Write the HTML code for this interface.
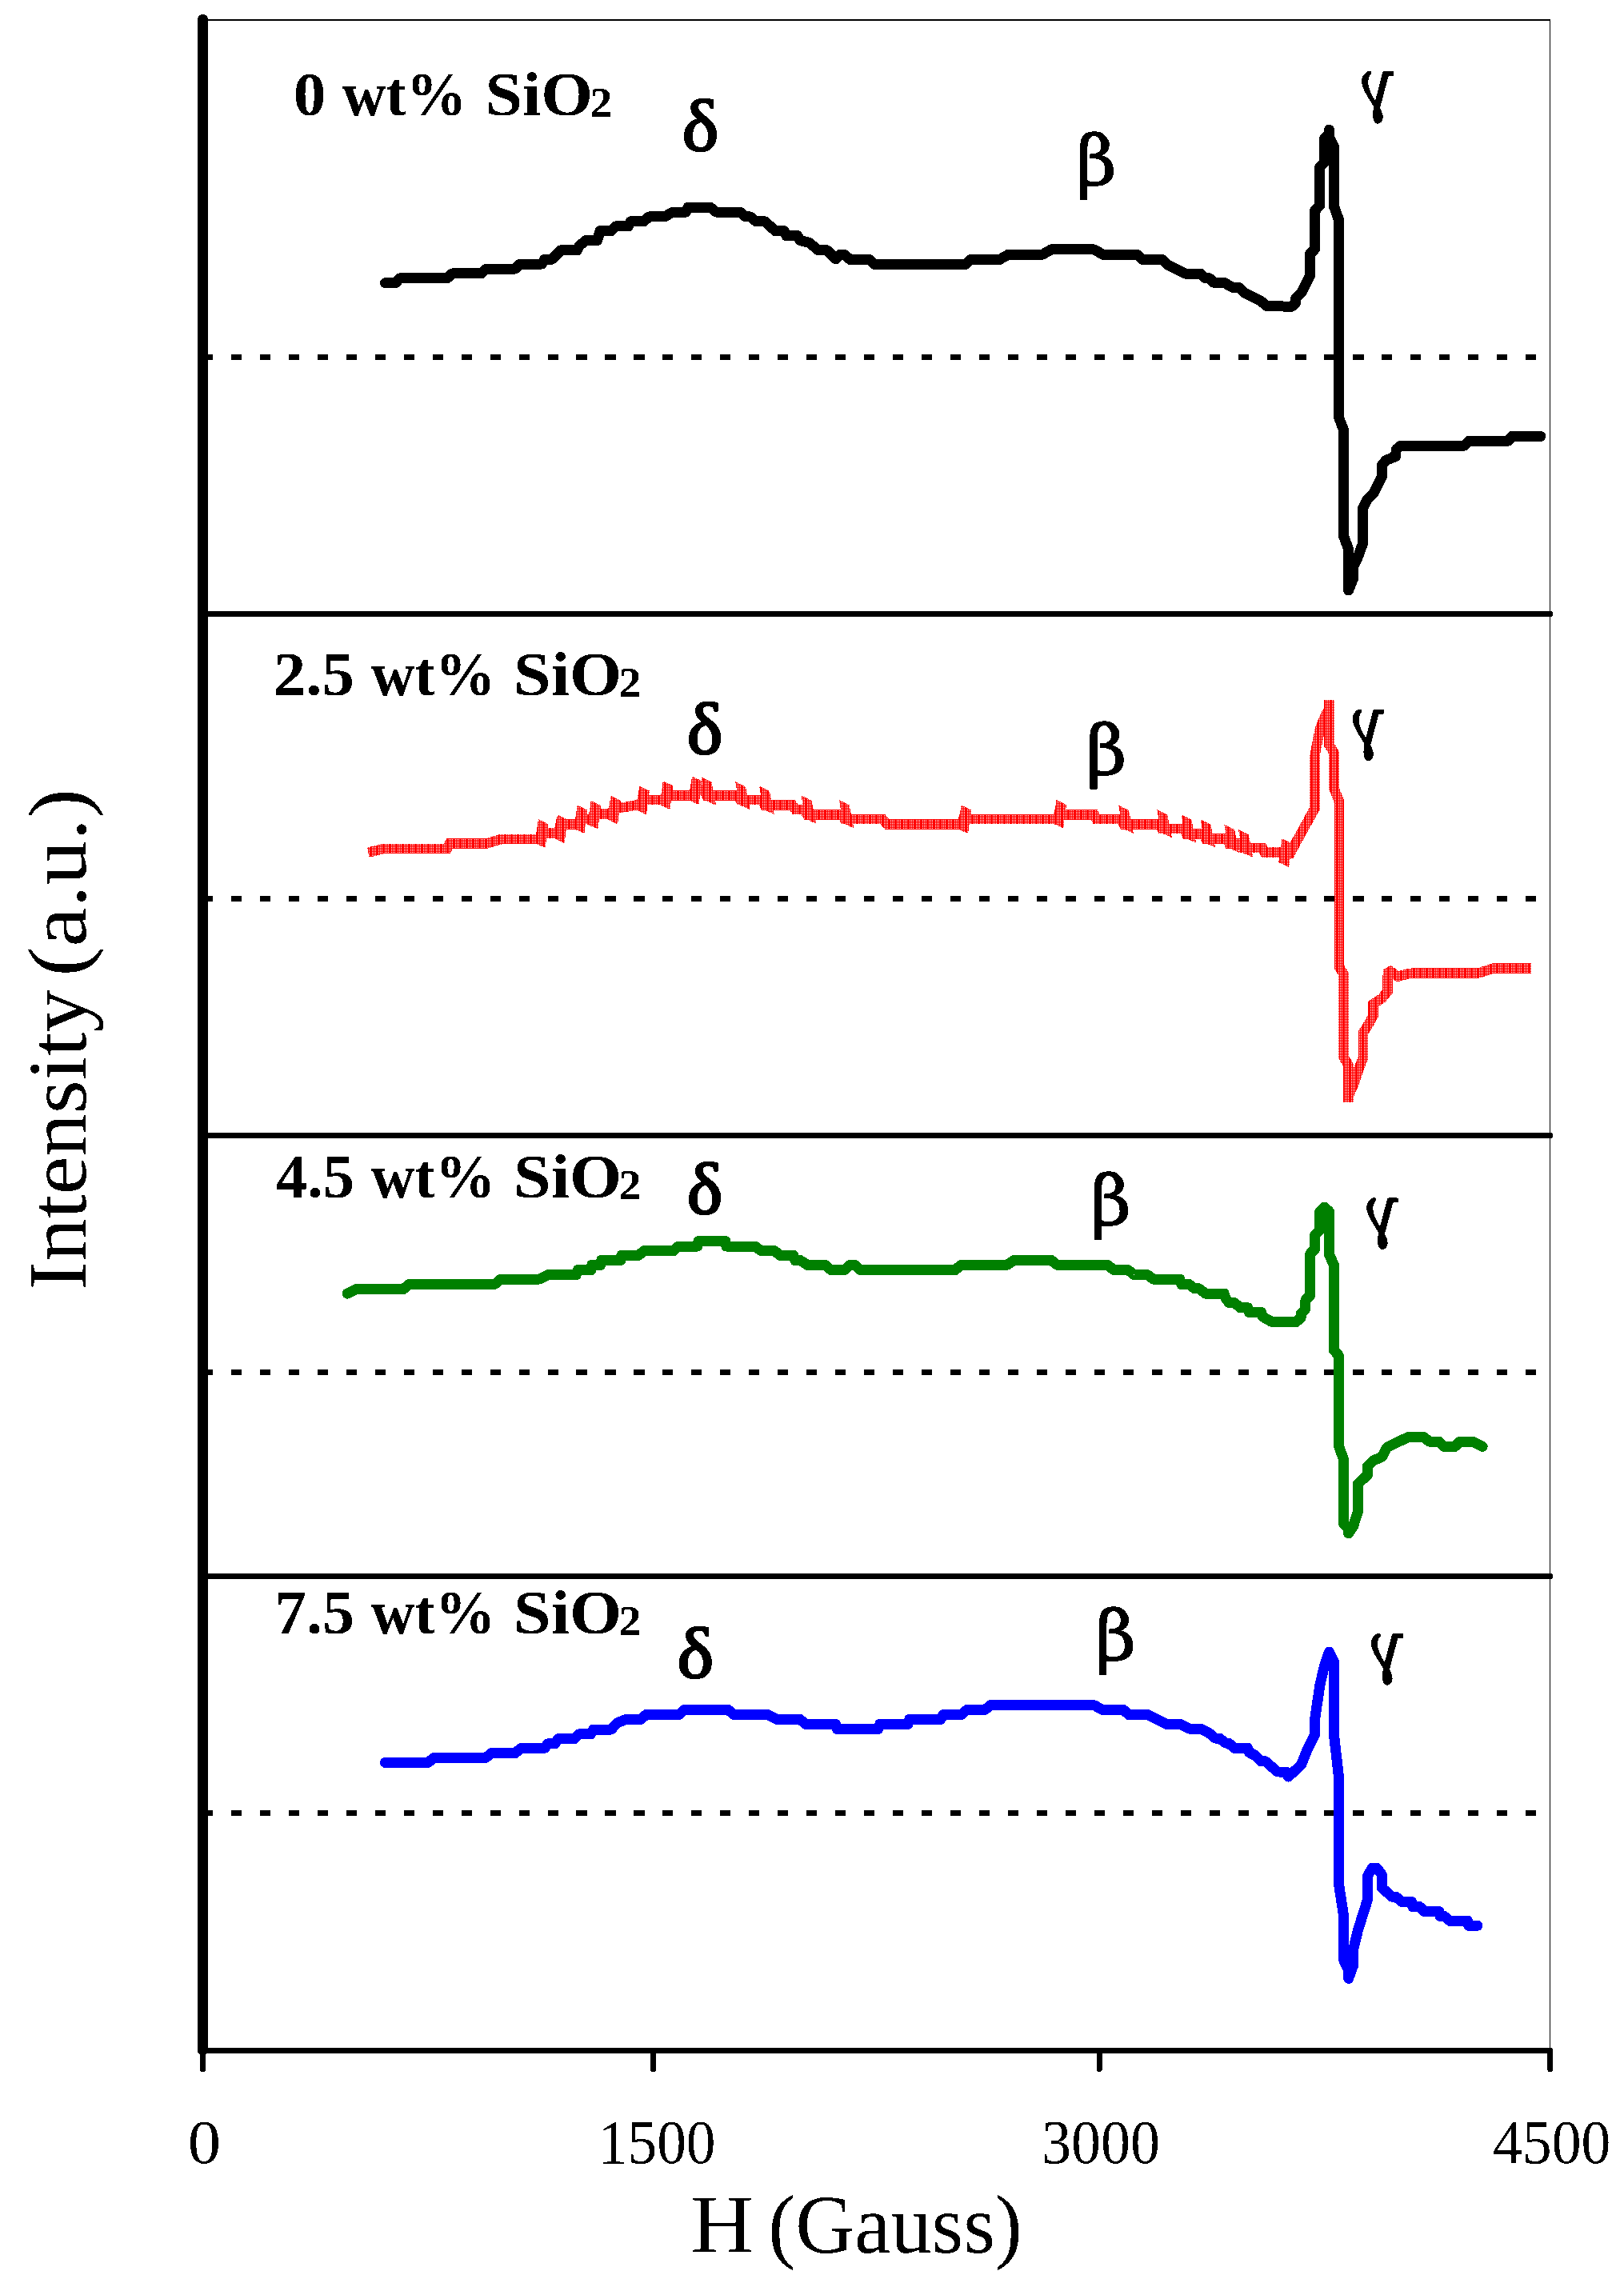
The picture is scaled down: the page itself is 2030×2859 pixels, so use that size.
<!DOCTYPE html>
<html lang="en"><head><meta charset="utf-8"><title>EPR spectra</title>
<style>
html,body{margin:0;padding:0;background:#fff;}
svg{display:block;}
text{font-family:"Liberation Serif",serif;fill:#000;}
.dj{font-family:"DejaVu Serif","Liberation Serif",serif;}
</style></head><body>
<svg width="2030" height="2859" viewBox="0 0 2030 2859" shape-rendering="crispEdges">
<defs>
<pattern id="rp" x="0" y="0" width="8" height="2" patternUnits="userSpaceOnUse">
<rect x="0" y="0" width="8" height="2" fill="#ff0000"/>
<rect x="1" y="1" width="1" height="1" fill="#fff"/>
<rect x="3" y="1" width="1" height="1" fill="#fff"/>
<rect x="5" y="1" width="1" height="1" fill="#fff"/>
</pattern>
<filter id="bin" filterUnits="userSpaceOnUse" x="0" y="0" width="2030" height="2859" color-interpolation-filters="sRGB">
<feComponentTransfer><feFuncA type="discrete" tableValues="0 1"/></feComponentTransfer>
</filter>
</defs>
<rect x="0" y="0" width="2030" height="2859" fill="#fff"/>

<g stroke="#000" fill="none">
<line x1="253.4" y1="25" x2="1938" y2="25" stroke-width="2"/>
<line x1="1937.5" y1="24" x2="1937.5" y2="2563" stroke-width="1"/>
<line x1="253" y1="446.45" x2="1925" y2="446.45" stroke-width="6.9" stroke-dasharray="13.1 22.86"/>
<line x1="253" y1="1123.45" x2="1925" y2="1123.45" stroke-width="6.9" stroke-dasharray="13.1 22.86"/>
<line x1="253" y1="1715.45" x2="1925" y2="1715.45" stroke-width="6.9" stroke-dasharray="13.1 22.86"/>
<line x1="253" y1="2266.45" x2="1925" y2="2266.45" stroke-width="6.9" stroke-dasharray="13.1 22.86"/>
</g>
<polyline points="481.4,353.7 494.3,353.7 499.9,347.8 559.0,347.8 565.3,341.9 601.5,341.9 608.1,336.0 644.0,336.0 650.2,330.0 677.2,330.0 680.9,324.1 690.1,324.1 701.2,312.7 721.6,312.7 724.1,307.1 732.6,300.5 746.7,300.5 750.0,288.7 764.0,288.7 769.6,282.8 785.5,282.8 788.4,276.8 804.7,276.8 811.3,270.9 830.5,270.9 841.6,265.0 857.5,265.0 860.1,259.1 887.8,259.1 895.2,265.0 924.8,265.0 932.1,270.9 937.7,270.9 945.1,276.8 956.2,276.8 969.1,288.7 980.2,288.7 982.8,294.6 996.8,294.6 999.8,300.5 1011.6,303.4 1022.7,312.7 1033.7,312.7 1044.8,323.8 1049.9,318.2 1055.4,318.2 1062.8,324.5 1086.8,324.5 1093.1,330.4 1206.9,330.4 1213.5,324.5 1249.4,324.5 1260.5,318.2 1303.0,318.2 1314.0,311.9 1367.6,311.9 1378.7,318.2 1421.2,318.2 1428.6,324.5 1452.6,324.5 1460.0,331.2 1482.1,342.2 1500.6,342.2 1506.9,347.8 1511.7,347.8 1517.2,353.3 1530.2,353.3 1541.3,359.6 1548.6,359.6 1556.0,366.3 1576.4,376.6 1583.7,382.9 1600.0,382.9 1614.7,383.3 1619.6,378.4 1619.6,372.8 1626.5,366.1 1637.6,343.9 1637.6,317.3 1643.7,311.2 1643.7,263.2 1649.7,257.0 1649.7,209.0 1655.6,202.8 1655.6,173.3 1661.5,167.1 1661.5,162.2 1661.5,172.0 1667.4,183.1 1667.4,257.7 1673.3,274.2 1673.3,460.0 1673.3,521.3 1679.5,537.3 1679.5,670.3 1685.6,686.3 1685.6,738.0 1691.5,723.3 1691.5,708.5 1697.4,696.2 1703.3,680.1 1703.3,635.8 1709.0,624.7 1716.4,617.3 1727.5,595.2 1727.5,581.6 1732.4,575.5 1744.7,570.5 1745.2,561.9 1750.9,557.0 1830.9,557.0 1835.9,551.3 1885.1,551.3 1890.0,545.4 1925.8,545.4" fill="none" stroke="#000" stroke-width="13" stroke-linejoin="round" stroke-linecap="round"/>
<polyline points="460.3,1065.6 480.6,1060.8 559.0,1060.8 561.9,1054.5 608.1,1054.5 626.6,1049.0 674.2,1049.0 676.5,1041.6 698.3,1041.6 700.5,1030.5 723.0,1030.5 725.2,1024.2 740.0,1024.2 742.2,1017.6 764.8,1017.6 767.0,1010.2 774.4,1010.2 794.7,1006.5 800.6,1006.5 802.8,999.9 830.1,999.9 832.4,994.3 866.4,994.3 868.6,988.0 880.0,988.0 883.3,994.3 922.5,994.3 925.5,999.9 952.4,999.9 955.8,1006.5 990.5,1006.5 994.2,1012.0 1005.3,1012.0 1009.0,1018.3 1040.0,1018.3 1038.8,1018.3 1052.1,1018.3 1055.4,1024.2 1103.4,1024.2 1109.0,1030.5 1201.7,1030.5 1203.9,1024.2 1320.7,1024.2 1322.9,1018.3 1367.6,1018.3 1370.6,1024.2 1401.6,1024.2 1404.6,1030.5 1449.6,1030.5 1452.6,1036.1 1479.9,1036.1 1482.9,1042.3 1503.9,1042.3 1506.9,1048.3 1533.5,1048.3 1536.5,1054.5 1551.2,1054.5 1554.2,1060.1 1578.2,1060.1 1580.8,1065.6 1600.0,1065.6 1613.0,1066.4 1619.1,1054.6 1631.4,1032.4 1643.7,1010.2 1643.7,943.7 1649.9,911.7 1655.6,896.9 1661.5,885.9 1661.5,875.3 1661.5,931.4 1667.6,941.3 1667.6,985.6 1673.8,1001.6 1673.8,1180.0 1673.8,1208.4 1679.7,1218.2 1679.7,1321.7 1685.6,1331.5 1685.6,1377.6 1685.6,1369.7 1691.8,1356.2 1697.9,1337.7 1704.1,1321.7 1704.1,1290.9 1710.2,1281.0 1716.4,1270.0 1716.4,1255.2 1727.5,1247.8 1734.4,1239.2 1734.9,1212.1 1747.2,1220.7 1762.0,1217.0 1769.4,1216.3 1848.2,1216.3 1867.9,1210.3 1913.9,1210.3" fill="none" stroke="url(#rp)" stroke-width="12.5" stroke-linejoin="miter" stroke-miterlimit="1.6" stroke-linecap="butt"/>
<polygon points="672.9,1024.2 685.5,1030.4 681.5,1059.9 668.5,1053.7" fill="url(#rp)"/>
<polygon points="696.9,1018.3 709.5,1024.5 705.5,1054.0 692.5,1047.8" fill="url(#rp)"/>
<polygon points="721.7,1006.5 734.3,1012.7 730.3,1042.2 717.3,1036.0" fill="url(#rp)"/>
<polygon points="738.7,1001.0 751.3,1007.2 747.3,1036.7 734.3,1030.5" fill="url(#rp)"/>
<polygon points="763.4,994.7 776.0,1000.9 772.0,1030.4 759.0,1024.2" fill="url(#rp)"/>
<polygon points="799.3,982.5 811.9,988.7 807.9,1018.2 794.9,1012.0" fill="url(#rp)"/>
<polygon points="828.8,976.2 841.4,982.4 837.4,1011.9 824.4,1005.7" fill="url(#rp)"/>
<polygon points="865.0,970.3 877.6,976.5 873.6,1006.0 860.6,999.8" fill="url(#rp)"/>
<polygon points="876.7,971.4 889.5,977.8 895.4,1006.9 881.6,1000.4" fill="url(#rp)"/>
<polygon points="919.2,976.9 932.0,983.3 937.9,1012.4 924.1,1005.9" fill="url(#rp)"/>
<polygon points="949.1,982.5 961.9,988.9 967.8,1018.0 954.0,1011.5" fill="url(#rp)"/>
<polygon points="1001.6,994.3 1014.4,1000.7 1020.3,1029.8 1006.5,1023.3" fill="url(#rp)"/>
<polygon points="1048.8,999.9 1061.6,1006.3 1067.5,1035.4 1053.7,1028.9" fill="url(#rp)"/>
<polygon points="1201.5,1006.5 1214.1,1012.7 1210.1,1042.2 1197.1,1036.0" fill="url(#rp)"/>
<polygon points="1320.5,999.9 1333.1,1006.1 1329.1,1035.6 1316.1,1029.4" fill="url(#rp)"/>
<polygon points="1398.3,1006.5 1411.1,1012.9 1417.0,1042.0 1403.2,1035.5" fill="url(#rp)"/>
<polygon points="1446.3,1012.0 1459.1,1018.4 1465.0,1047.5 1451.2,1041.0" fill="url(#rp)"/>
<polygon points="1476.6,1018.3 1489.4,1024.7 1495.3,1053.8 1481.5,1047.3" fill="url(#rp)"/>
<polygon points="1500.6,1024.2 1513.4,1030.6 1519.3,1059.7 1505.5,1053.2" fill="url(#rp)"/>
<polygon points="1530.2,1030.5 1543.0,1036.9 1548.9,1066.0 1535.1,1059.5" fill="url(#rp)"/>
<polygon points="1547.9,1036.8 1560.7,1043.2 1566.6,1072.3 1552.8,1065.8" fill="url(#rp)"/>
<polygon points="1602.6,1048.4 1615.2,1054.6 1611.2,1084.1 1598.2,1077.9" fill="url(#rp)"/>
<polyline points="434.0,1617.1 445.1,1611.6 504.2,1611.6 511.6,1605.3 618.7,1605.3 626.1,1599.0 674.2,1599.0 685.2,1593.5 720.3,1593.5 722.2,1587.6 738.8,1587.6 739.9,1581.3 750.6,1581.3 751.7,1575.4 775.8,1575.4 776.9,1569.5 797.9,1569.5 805.3,1563.5 842.3,1563.5 847.8,1558.0 871.8,1558.0 872.9,1551.7 906.9,1551.7 908.0,1558.0 943.9,1558.0 951.3,1563.5 967.9,1563.5 975.3,1569.5 991.9,1569.5 993.7,1575.4 1000.0,1575.4 1000.0,1575.4 1009.2,1581.3 1031.4,1581.3 1038.8,1587.6 1055.4,1587.6 1062.8,1581.3 1068.3,1581.3 1075.7,1587.6 1194.0,1587.6 1201.4,1581.3 1258.6,1581.3 1267.9,1575.4 1314.0,1575.4 1321.4,1581.3 1384.2,1581.3 1392.4,1587.6 1410.1,1587.6 1417.5,1593.5 1434.1,1593.5 1441.5,1599.0 1474.8,1599.0 1476.6,1605.3 1485.8,1605.3 1493.2,1610.8 1498.8,1610.8 1506.9,1617.1 1530.2,1617.1 1532.0,1623.0 1536.5,1628.6 1543.1,1628.6 1550.5,1634.9 1559.7,1634.9 1561.6,1640.4 1576.4,1640.4 1578.2,1645.9 1589.3,1652.2 1600.0,1652.2 1620.3,1652.4 1626.0,1647.5 1626.0,1642.6 1631.9,1636.4 1631.9,1625.3 1637.8,1619.2 1637.8,1567.4 1643.7,1561.3 1643.7,1544.0 1649.7,1537.9 1649.7,1514.5 1655.6,1509.1 1661.5,1514.5 1661.5,1568.7 1667.4,1581.0 1667.4,1688.1 1673.3,1694.3 1673.3,1800.0 1673.3,1807.1 1679.5,1824.4 1679.5,1904.4 1685.6,1911.8 1685.6,1916.7 1691.5,1908.1 1697.4,1889.7 1697.4,1855.2 1709.5,1843.6 1709.5,1833.0 1716.4,1826.1 1727.5,1821.2 1733.6,1809.6 1759.5,1796.8 1780.4,1796.8 1786.6,1802.2 1798.9,1802.2 1805.1,1808.4 1818.6,1808.4 1824.8,1802.2 1840.8,1802.2 1853.1,1808.4" fill="none" stroke="#008000" stroke-width="13" stroke-linejoin="round" stroke-linecap="round"/>
<polyline points="481.4,2203.4 535.0,2203.4 542.4,2197.5 607.0,2197.5 614.4,2191.6 644.0,2191.6 651.4,2185.3 680.9,2185.3 684.6,2179.8 693.8,2179.8 697.5,2173.8 717.9,2173.8 723.4,2167.9 738.2,2167.9 741.9,2162.0 764.0,2162.0 771.4,2153.9 782.5,2149.5 801.0,2149.5 807.6,2143.5 849.0,2143.5 855.7,2137.3 910.0,2137.3 917.4,2143.5 959.9,2143.5 971.7,2149.5 1000.1,2149.5 1000.0,2149.5 1007.4,2155.4 1044.3,2155.4 1046.2,2161.3 1097.9,2161.3 1099.8,2155.4 1134.9,2155.4 1136.7,2149.5 1175.5,2149.5 1179.2,2143.5 1201.4,2143.5 1208.7,2137.6 1230.9,2137.6 1238.3,2131.7 1367.6,2131.7 1378.7,2137.6 1404.6,2137.6 1410.8,2143.5 1434.1,2143.5 1458.1,2155.4 1474.8,2155.4 1487.7,2161.3 1500.6,2161.3 1511.7,2166.8 1519.1,2173.1 1524.6,2173.1 1532.0,2179.0 1535.7,2179.0 1543.1,2185.3 1559.7,2185.3 1561.6,2190.8 1569.0,2194.5 1576.4,2201.9 1581.9,2201.9 1596.7,2214.9 1608.0,2215.4 1610.5,2221.0 1626.5,2206.3 1633.9,2187.8 1643.7,2168.1 1643.7,2148.4 1649.9,2106.5 1655.6,2081.9 1661.5,2065.1 1667.4,2076.9 1667.4,2168.1 1673.3,2219.8 1673.3,2347.9 1673.3,2353.9 1679.5,2394.5 1679.5,2450.0 1685.6,2462.3 1685.6,2473.3 1691.5,2457.3 1691.5,2437.6 1697.4,2413.0 1709.5,2374.8 1709.5,2345.3 1715.2,2335.4 1721.3,2335.4 1727.5,2344.0 1727.5,2360.0 1739.8,2371.1 1744.7,2371.1 1752.1,2377.3 1764.4,2377.3 1765.7,2383.4 1774.3,2383.4 1780.4,2389.6 1798.9,2389.6 1800.1,2395.3 1805.1,2395.3 1812.5,2401.4 1834.6,2401.4 1835.9,2407.3 1846.9,2407.3" fill="none" stroke="#0000ff" stroke-width="13" stroke-linejoin="round" stroke-linecap="round"/>
<g stroke="#000" fill="none" stroke-linecap="round">
<line x1="253.4" y1="767.5" x2="1938" y2="767.5" stroke-width="7"/>
<line x1="253.4" y1="1419.5" x2="1938" y2="1419.5" stroke-width="7"/>
<line x1="253.4" y1="1970.3" x2="1938" y2="1970.3" stroke-width="7"/>
<line x1="253.4" y1="2563.4" x2="1937.6" y2="2563.4" stroke-width="7"/>
<line x1="253.5" y1="2563.4" x2="253.5" y2="2586.6" stroke-width="7"/>
<line x1="816.5" y1="2563.4" x2="816.5" y2="2586.6" stroke-width="7"/>
<line x1="1374.2" y1="2563.4" x2="1374.2" y2="2586.6" stroke-width="7"/>
<line x1="1937.6" y1="2563.4" x2="1937.6" y2="2586.6" stroke-width="7"/>
<line x1="253.4" y1="24.5" x2="253.4" y2="2563" stroke-width="13.2"/>
</g>
<g filter="url(#bin)">
<text y="144.10" font-size="78.5" font-weight="bold"><tspan x="366.85" textLength="40.71" lengthAdjust="spacingAndGlyphs">0</tspan> <tspan x="427.81" textLength="155.71" lengthAdjust="spacingAndGlyphs">wt%</tspan> <tspan x="606.62" textLength="134.39" lengthAdjust="spacingAndGlyphs">SiO</tspan><tspan x="737.53" y="145.90" font-size="53.33" textLength="27.83" lengthAdjust="spacingAndGlyphs">2</tspan></text>
<text y="869.10" font-size="78.5" font-weight="bold"><tspan x="341.86" textLength="101.07" lengthAdjust="spacingAndGlyphs">2.5</tspan> <tspan x="463.81" textLength="155.71" lengthAdjust="spacingAndGlyphs">wt%</tspan> <tspan x="642.11" textLength="134.92" lengthAdjust="spacingAndGlyphs">SiO</tspan><tspan x="773.52" y="870.90" font-size="53.33" textLength="27.95" lengthAdjust="spacingAndGlyphs">2</tspan></text>
<text y="1496.80" font-size="78.5" font-weight="bold"><tspan x="344.82" textLength="98.12" lengthAdjust="spacingAndGlyphs">4.5</tspan> <tspan x="463.81" textLength="155.71" lengthAdjust="spacingAndGlyphs">wt%</tspan> <tspan x="642.11" textLength="134.92" lengthAdjust="spacingAndGlyphs">SiO</tspan><tspan x="773.52" y="1498.60" font-size="53.33" textLength="27.95" lengthAdjust="spacingAndGlyphs">2</tspan></text>
<text y="2042.40" font-size="78.5" font-weight="bold"><tspan x="343.10" textLength="100.00" lengthAdjust="spacingAndGlyphs">7.5</tspan> <tspan x="463.81" textLength="155.71" lengthAdjust="spacingAndGlyphs">wt%</tspan> <tspan x="642.11" textLength="134.92" lengthAdjust="spacingAndGlyphs">SiO</tspan><tspan x="773.52" y="2044.20" font-size="53.33" textLength="27.95" lengthAdjust="spacingAndGlyphs">2</tspan></text>
<text transform="matrix(0.9660 0 0 0.9056 852.68 187.69)" font-size="100" stroke="#000" stroke-width="2.99" stroke-linejoin="round">δ</text>
<text transform="matrix(0.9459 0 0 0.9113 858.75 941.89)" font-size="100" stroke="#000" stroke-width="3.02" stroke-linejoin="round">δ</text>
<text transform="matrix(0.9459 0 0 0.9085 858.75 1516.89)" font-size="100" stroke="#000" stroke-width="3.02" stroke-linejoin="round">δ</text>
<text transform="matrix(0.9686 0 0 0.8944 846.47 2096.91)" font-size="100" stroke="#000" stroke-width="3.01" stroke-linejoin="round">δ</text>
<text transform="matrix(0.8710 0 0 0.8596 1345.26 231.36)" font-size="100" class="dj" stroke="#000" stroke-width="1.85" stroke-linejoin="round">β</text>
<text transform="matrix(0.8796 0 0 0.8596 1357.50 967.56)" font-size="100" class="dj" stroke="#000" stroke-width="1.84" stroke-linejoin="round">β</text>
<text transform="matrix(0.8796 0 0 0.8607 1363.00 1530.64)" font-size="100" class="dj" stroke="#000" stroke-width="1.84" stroke-linejoin="round">β</text>
<text transform="matrix(0.8796 0 0 0.8535 1369.20 2075.39)" font-size="100" class="dj" stroke="#000" stroke-width="1.85" stroke-linejoin="round">β</text>
<text transform="matrix(-0.7649 0 0 0.8726 1744.38 135.98)" font-size="100" class="dj" stroke="#000" stroke-width="1.47" stroke-linejoin="round">γ</text>
<text transform="matrix(-0.7512 0 0 0.8685 1732.13 931.96)" font-size="100" class="dj" stroke="#000" stroke-width="1.48" stroke-linejoin="round">γ</text>
<text transform="matrix(-0.7571 0 0 0.8685 1750.05 1542.76)" font-size="100" class="dj" stroke="#000" stroke-width="1.48" stroke-linejoin="round">γ</text>
<text transform="matrix(-0.7688 0 0 0.8685 1756.19 2087.36)" font-size="100" class="dj" stroke="#000" stroke-width="1.47" stroke-linejoin="round">γ</text>
<text transform="matrix(1.0657 0 0 1 234.80 2704.00)" font-size="77.5">0</text>
<text transform="matrix(0.9469 0 0 1 747.78 2704.00)" font-size="77.5">1500</text>
<text transform="matrix(0.9554 0 0 1 1301.88 2704.00)" font-size="77.5">3000</text>
<text transform="matrix(0.9512 0 0 1 1865.93 2704.00)" font-size="77.5">4500</text>
<text y="2816.10" font-size="103.4"><tspan x="863.19" textLength="79.17" lengthAdjust="spacingAndGlyphs">H</tspan> <tspan x="960.36" textLength="317.52" lengthAdjust="spacingAndGlyphs">(Gauss)</tspan></text>
<text transform="translate(107.2,1608.7) rotate(-90)" y="0" font-size="104"><tspan x="-3.76" textLength="375.48" lengthAdjust="spacingAndGlyphs">Intensity</tspan> <tspan x="388.28" textLength="234.54" lengthAdjust="spacingAndGlyphs">(a.u.)</tspan></text>
</g>
</svg></body></html>
